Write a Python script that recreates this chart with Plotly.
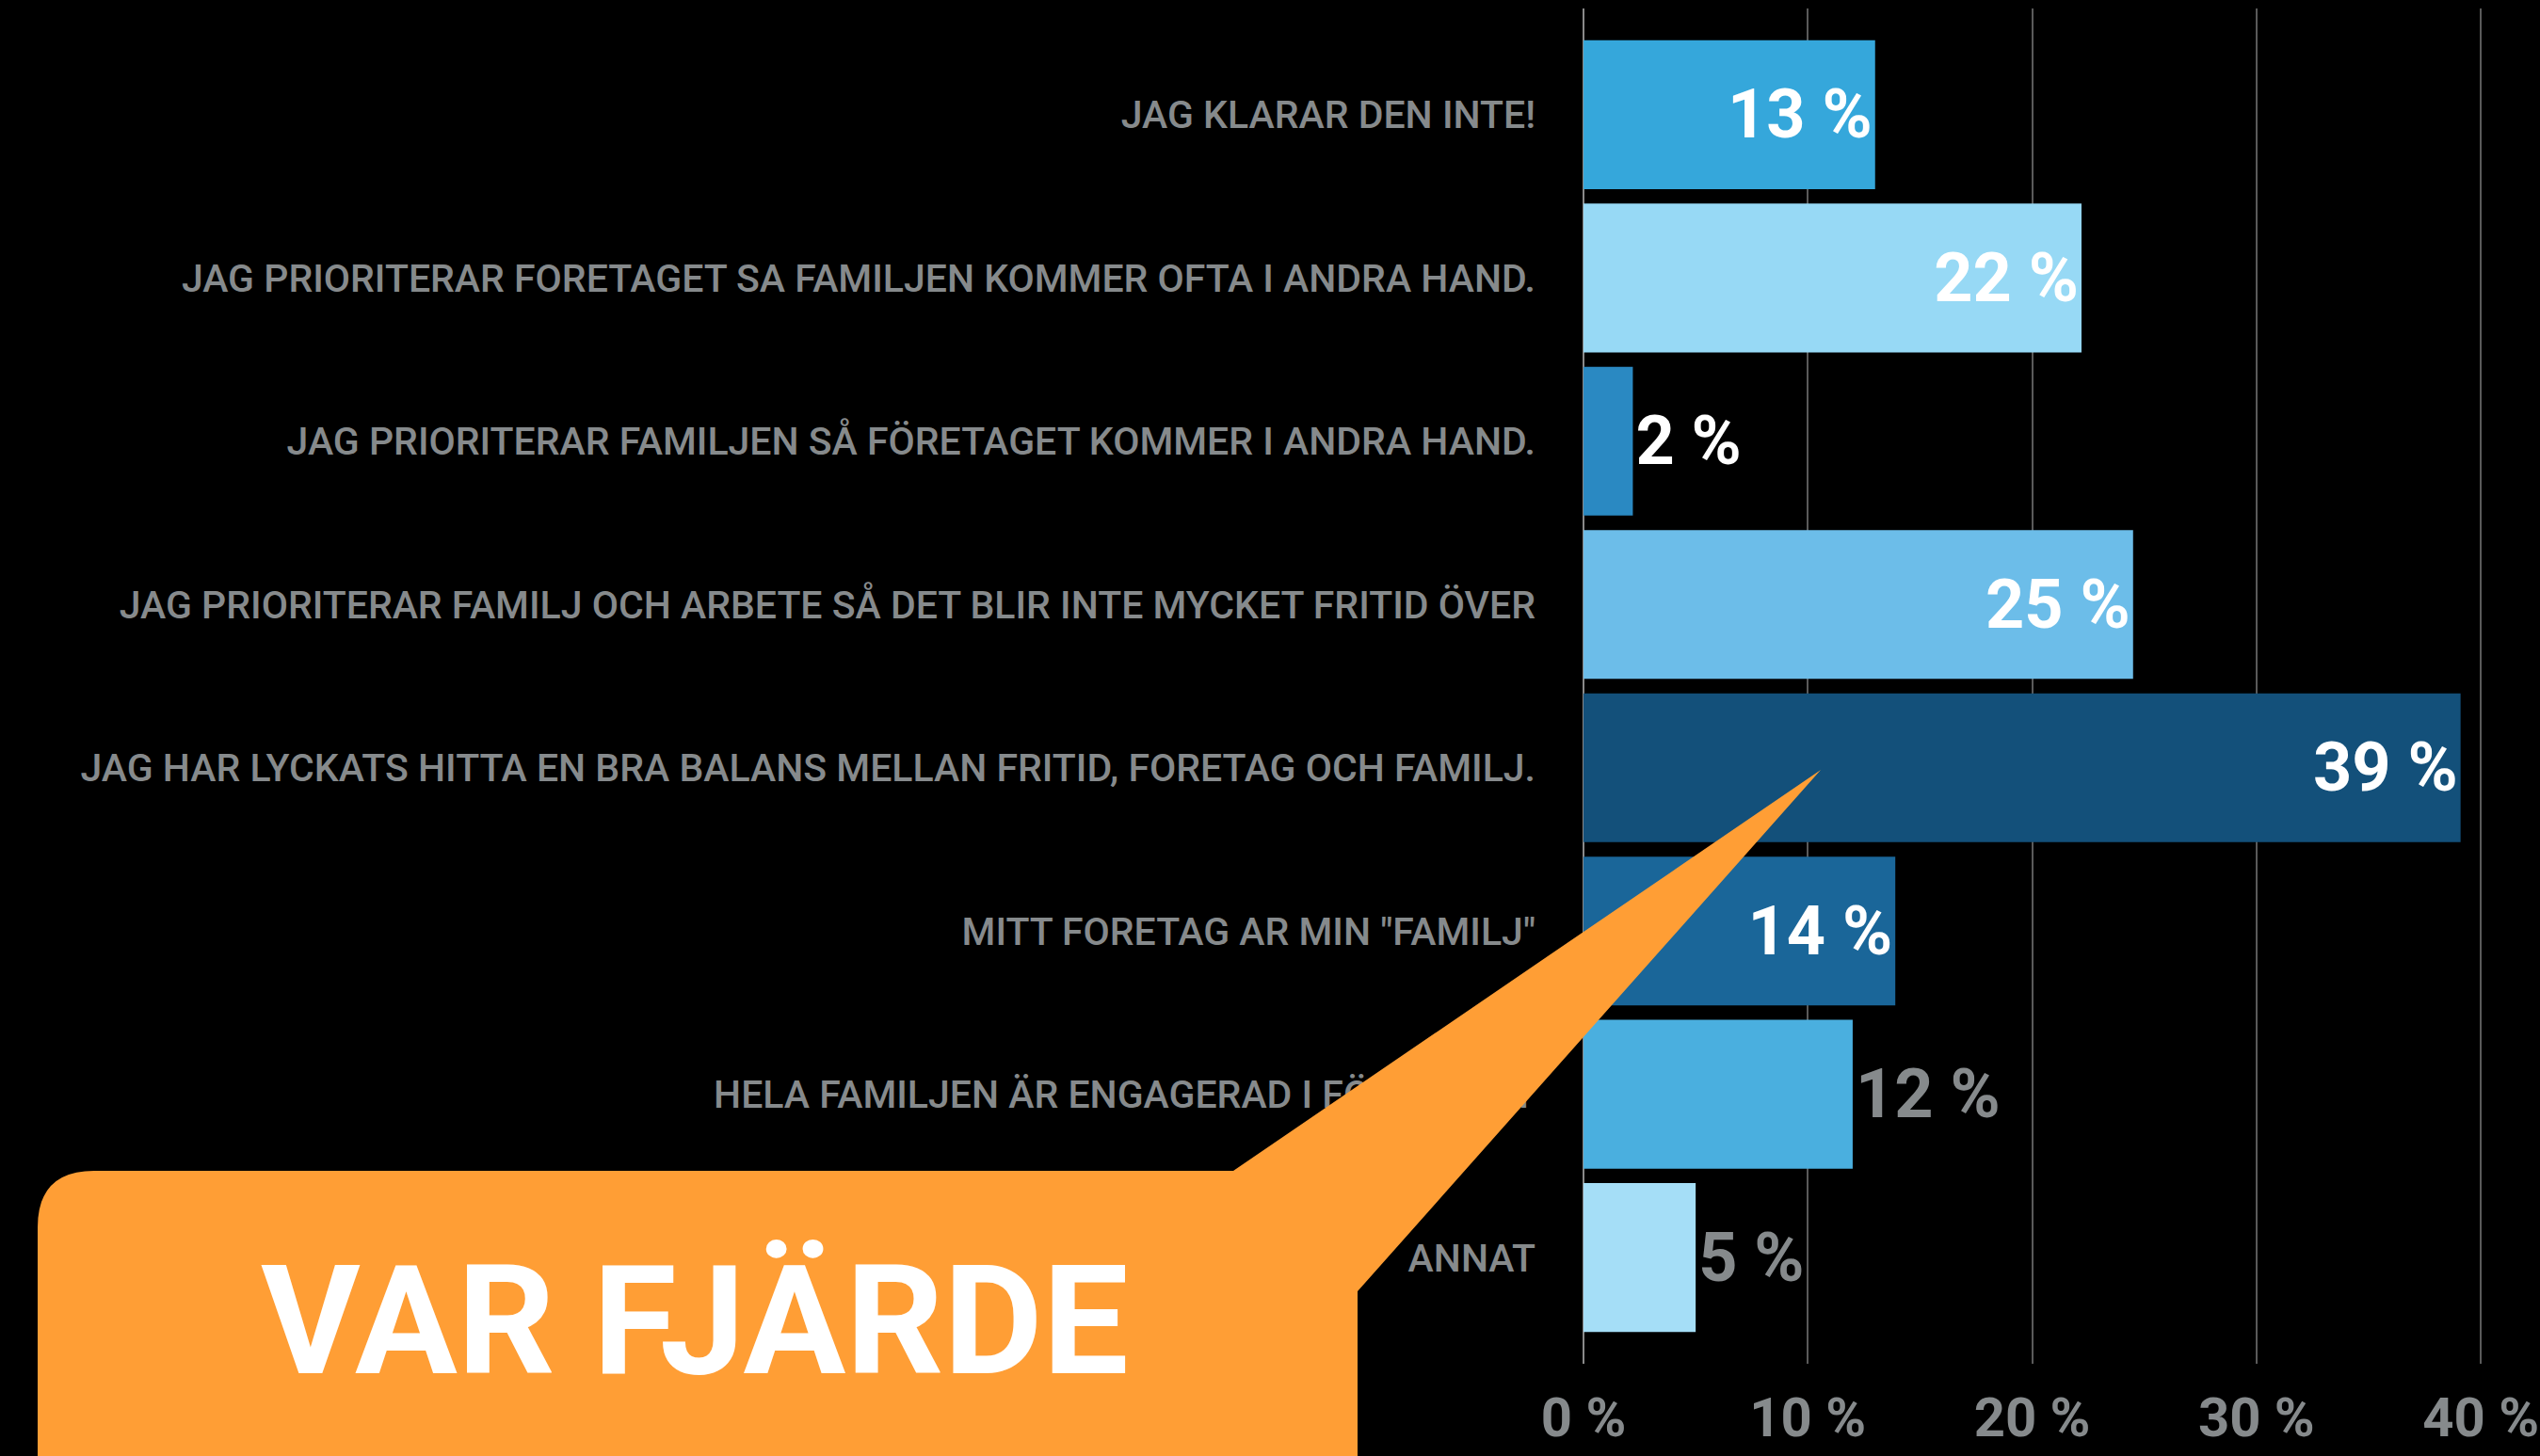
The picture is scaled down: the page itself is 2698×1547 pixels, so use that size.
import plotly.graph_objects as go

categories = [
    "JAG KLARAR DEN INTE!",
    "JAG PRIORITERAR FORETAGET SA FAMILJEN KOMMER OFTA I ANDRA HAND.",
    "JAG PRIORITERAR FAMILJEN SÅ FÖRETAGET KOMMER I ANDRA HAND.",
    "JAG PRIORITERAR FAMILJ OCH ARBETE SÅ DET BLIR INTE MYCKET FRITID ÖVER",
    "JAG HAR LYCKATS HITTA EN BRA BALANS MELLAN FRITID, FORETAG OCH FAMILJ.",
    "MITT FORETAG AR MIN \"FAMILJ\"",
    "HELA FAMILJEN ÄR ENGAGERAD I FÖRETAGET",
    "ANNAT",
]
values = [13, 22.2, 2.2, 24.5, 39.1, 13.9, 12, 5]
value_labels = ["13 %", "22 %", "2 %", "25 %", "39 %", "14 %", "12 %", "5 %"]
bar_colors = ["#35A7DB", "#97D9F5", "#2A89C2", "#6CBDE9",
              "#13507A", "#1A6699", "#4AAFDF", "#A5DEF7"]
label_positions = ["inside", "inside", "outside", "inside",
                   "inside", "inside", "outside", "outside"]
label_colors = ["#FFFFFF"] * 6 + ["#868A8C"] * 2
x_ticks = [0, 10, 20, 30, 40]
x_tick_labels = ["0 %", "10 %", "20 %", "30 %", "40 %"]
callout_text = "VAR FJÄRDE"

FONT = "Roboto, Liberation Sans, sans-serif"
GRAY = "#868A8C"
ORANGE = "#FF9E35"

W, H = 2698, 1547
L, R, T, B = 1682, 0, 9, 98
PW, PH = W - L - R, H - T - B


def px(x):
    return (x - L) / PW


def py(y):
    return (H - B - y) / PH


fig = go.Figure()
fig.add_trace(go.Bar(
    y=categories,
    x=values,
    orientation="h",
    width=0.912,
    marker=dict(color=bar_colors, line=dict(width=0)),
    text=value_labels,
    textposition=label_positions,
    insidetextanchor="end",
    textangle=0,
    constraintext="none",
    cliponaxis=False,
    textfont=dict(family=FONT, size=72, color=label_colors, weight="bold"),
    hoverinfo="skip",
))

callout_path = (
    f"M {px(40)},{py(1560)} "
    f"L {px(40)},{py(1304)} "
    f"Q {px(40)},{py(1244)} {px(100)},{py(1244)} "
    f"L {px(1310)},{py(1244)} "
    f"L {px(1934)},{py(818)} "
    f"L {px(1442)},{py(1372)} "
    f"L {px(1442)},{py(1560)} Z"
)

fig.update_layout(
    width=W, height=H,
    margin=dict(l=L, r=R, t=T, b=B, pad=0),
    paper_bgcolor="#000000",
    plot_bgcolor="#000000",
    showlegend=False,
    bargap=0.088,
    xaxis=dict(
        range=[0, 42.64],
        tickvals=x_ticks,
        ticktext=x_tick_labels,
        tickfont=dict(family=FONT, size=58, color=GRAY, weight="bold"),
        showgrid=True, gridcolor="#5A5A5A", gridwidth=2,
        zeroline=True, zerolinecolor="#8A8A8A", zerolinewidth=2,
        showline=False, ticks="",
        ticklabelstandoff=18,
        ticklabeloverflow="allow",
        automargin=False,
        fixedrange=True,
    ),
    yaxis=dict(
        categoryorder="array",
        categoryarray=categories,
        range=[7.65, -0.65],
        tickfont=dict(family=FONT, size=41, color=GRAY, weight=500),
        showgrid=False, zeroline=False, showline=False, ticks="",
        ticklabelstandoff=50,
        automargin=False,
        fixedrange=True,
    ),
    shapes=[dict(
        type="path", xref="paper", yref="paper",
        path=callout_path,
        fillcolor=ORANGE, line=dict(width=0),
        layer="above",
    )],
    annotations=[dict(
        text=callout_text,
        xref="paper", yref="paper",
        x=px(738), y=py(1404),
        xanchor="center", yanchor="middle",
        showarrow=False,
        font=dict(family=FONT, size=162, color="#FFFFFF", weight="bold"),
    )],
)

fig.write_html(
    "out.html",
    config={"displayModeBar": False},
    post_script="document.body.style.margin='0';"
                "document.body.style.background='#000';"
                "document.body.style.overflow='hidden';",
)
